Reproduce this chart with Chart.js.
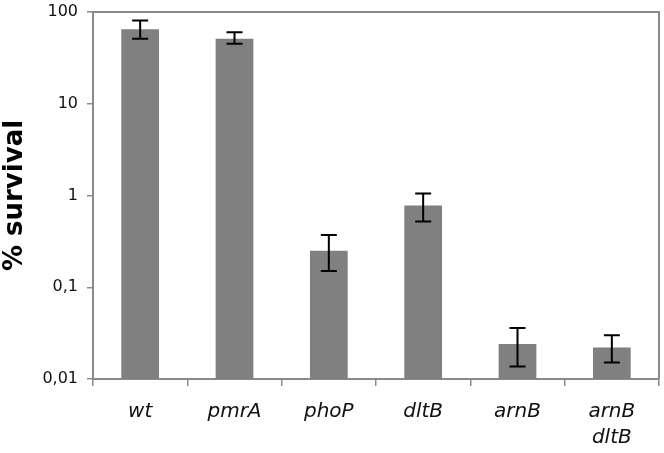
<!DOCTYPE html>
<html lang="en">
<head>
<meta charset="UTF-8">
<title>% survival</title>
<script src="https://cdn.jsdelivr.net/npm/chart.js"></script>
<style>
    html, body { margin: 0; padding: 0; background: #fff; overflow: hidden; }
    .graph { position: relative; width: 664px; height: 453px; }
</style>
</head>
<body>
<div class="graph">
    <canvas id="canvas_survival" width="664" height="453"></canvas>
</div>
<script>
    // data
    const cepas = ['wt', 'pmrA', 'phoP', 'dltB', 'arnB', ['arnB', 'dltB']];
    const sobrevivencia = [65, 51, 0.25, 0.78, 0.024, 0.022];
    const erroSuperior = [81, 60, 0.37, 1.05, 0.036, 0.030];
    const erroInferior = [51, 45, 0.15, 0.52, 0.0137, 0.0151];
    const ticksY = [0.01, 0.1, 1, 10, 100];

    const corEixo = '#8a8a8a';

    // error bars drawn through the chart's own scales
    const barrasErro = {
        id: 'barrasErro',
        afterDatasetsDraw(chart) {
            const ctx = chart.ctx;
            const x = chart.scales.x;
            const y = chart.scales.y;
            ctx.save();
            ctx.strokeStyle = '#000';
            ctx.lineWidth = 2;
            for (let i = 0; i < sobrevivencia.length; i++) {
                const px = x.getPixelForValue(i);
                const yTop = y.getPixelForValue(erroSuperior[i]);
                const yBot = y.getPixelForValue(erroInferior[i]);
                ctx.beginPath();
                ctx.moveTo(px, yTop);
                ctx.lineTo(px, yBot);
                ctx.moveTo(px - 8, yTop);
                ctx.lineTo(px + 8, yTop);
                ctx.moveTo(px - 8, yBot);
                ctx.lineTo(px + 8, yBot);
                ctx.stroke();
            }
            ctx.restore();
        }
    };

    // top and right frame of the plot area
    const moldura = {
        id: 'moldura',
        afterDraw(chart) {
            const a = chart.chartArea;
            const ctx = chart.ctx;
            ctx.save();
            ctx.strokeStyle = corEixo;
            ctx.lineWidth = 2;
            ctx.beginPath();
            ctx.moveTo(a.left, a.top);
            ctx.lineTo(a.right, a.top);
            ctx.lineTo(a.right, a.bottom);
            ctx.stroke();
            ctx.restore();
        }
    };

    new Chart(document.getElementById('canvas_survival'), {
        type: 'bar',
        data: {
            labels: cepas,
            datasets: [{
                label: '% survival',
                data: sobrevivencia,
                backgroundColor: '#808080',
                borderWidth: 0,
                barPercentage: 0.4,
                categoryPercentage: 1
            }]
        },
        options: {
            responsive: false,
            animation: false,
            layout: { padding: { top: 12, right: 5, left: 0, bottom: 0 } },
            plugins: {
                legend: { display: false },
                tooltip: { enabled: false }
            },
            scales: {
                x: {
                    grid: {
                        offset: true,
                        drawOnChartArea: false,
                        drawTicks: true,
                        tickLength: 7,
                        color: corEixo,
                        lineWidth: 1.5
                    },
                    border: { color: corEixo, width: 2 },
                    ticks: {
                        color: '#111',
                        padding: 13,
                        autoSkip: false,
                        maxRotation: 0,
                        font: { family: 'DejaVu Sans', size: 20, style: 'italic', lineHeight: 1.3 }
                    },
                    afterFit(scale) { scale.height = 74; }
                },
                y: {
                    type: 'logarithmic',
                    min: 0.01,
                    max: 100,
                    afterBuildTicks(scale) {
                        scale.ticks = ticksY.map(v => ({ value: v }));
                    },
                    grid: {
                        drawOnChartArea: false,
                        drawTicks: true,
                        tickLength: 6,
                        color: corEixo,
                        lineWidth: 1.5
                    },
                    border: { color: corEixo, width: 2 },
                    ticks: {
                        color: '#111',
                        padding: 9,
                        autoSkip: false,
                        font: { family: 'DejaVu Sans', size: 16 },
                        callback: v => String(v).replace('.', ',')
                    },
                    title: {
                        display: true,
                        text: '% survival',
                        color: '#000',
                        padding: { top: 0, bottom: 0 },
                        font: { family: 'DejaVu Sans', size: 26, weight: 'bold' }
                    },
                    afterFit(scale) {
                        scale.width = 93;
                        scale.paddingTop = 0;
                        scale.paddingBottom = 0;
                    }
                }
            }
        },
        plugins: [barrasErro, moldura]
    });
</script>
</body>
</html>
